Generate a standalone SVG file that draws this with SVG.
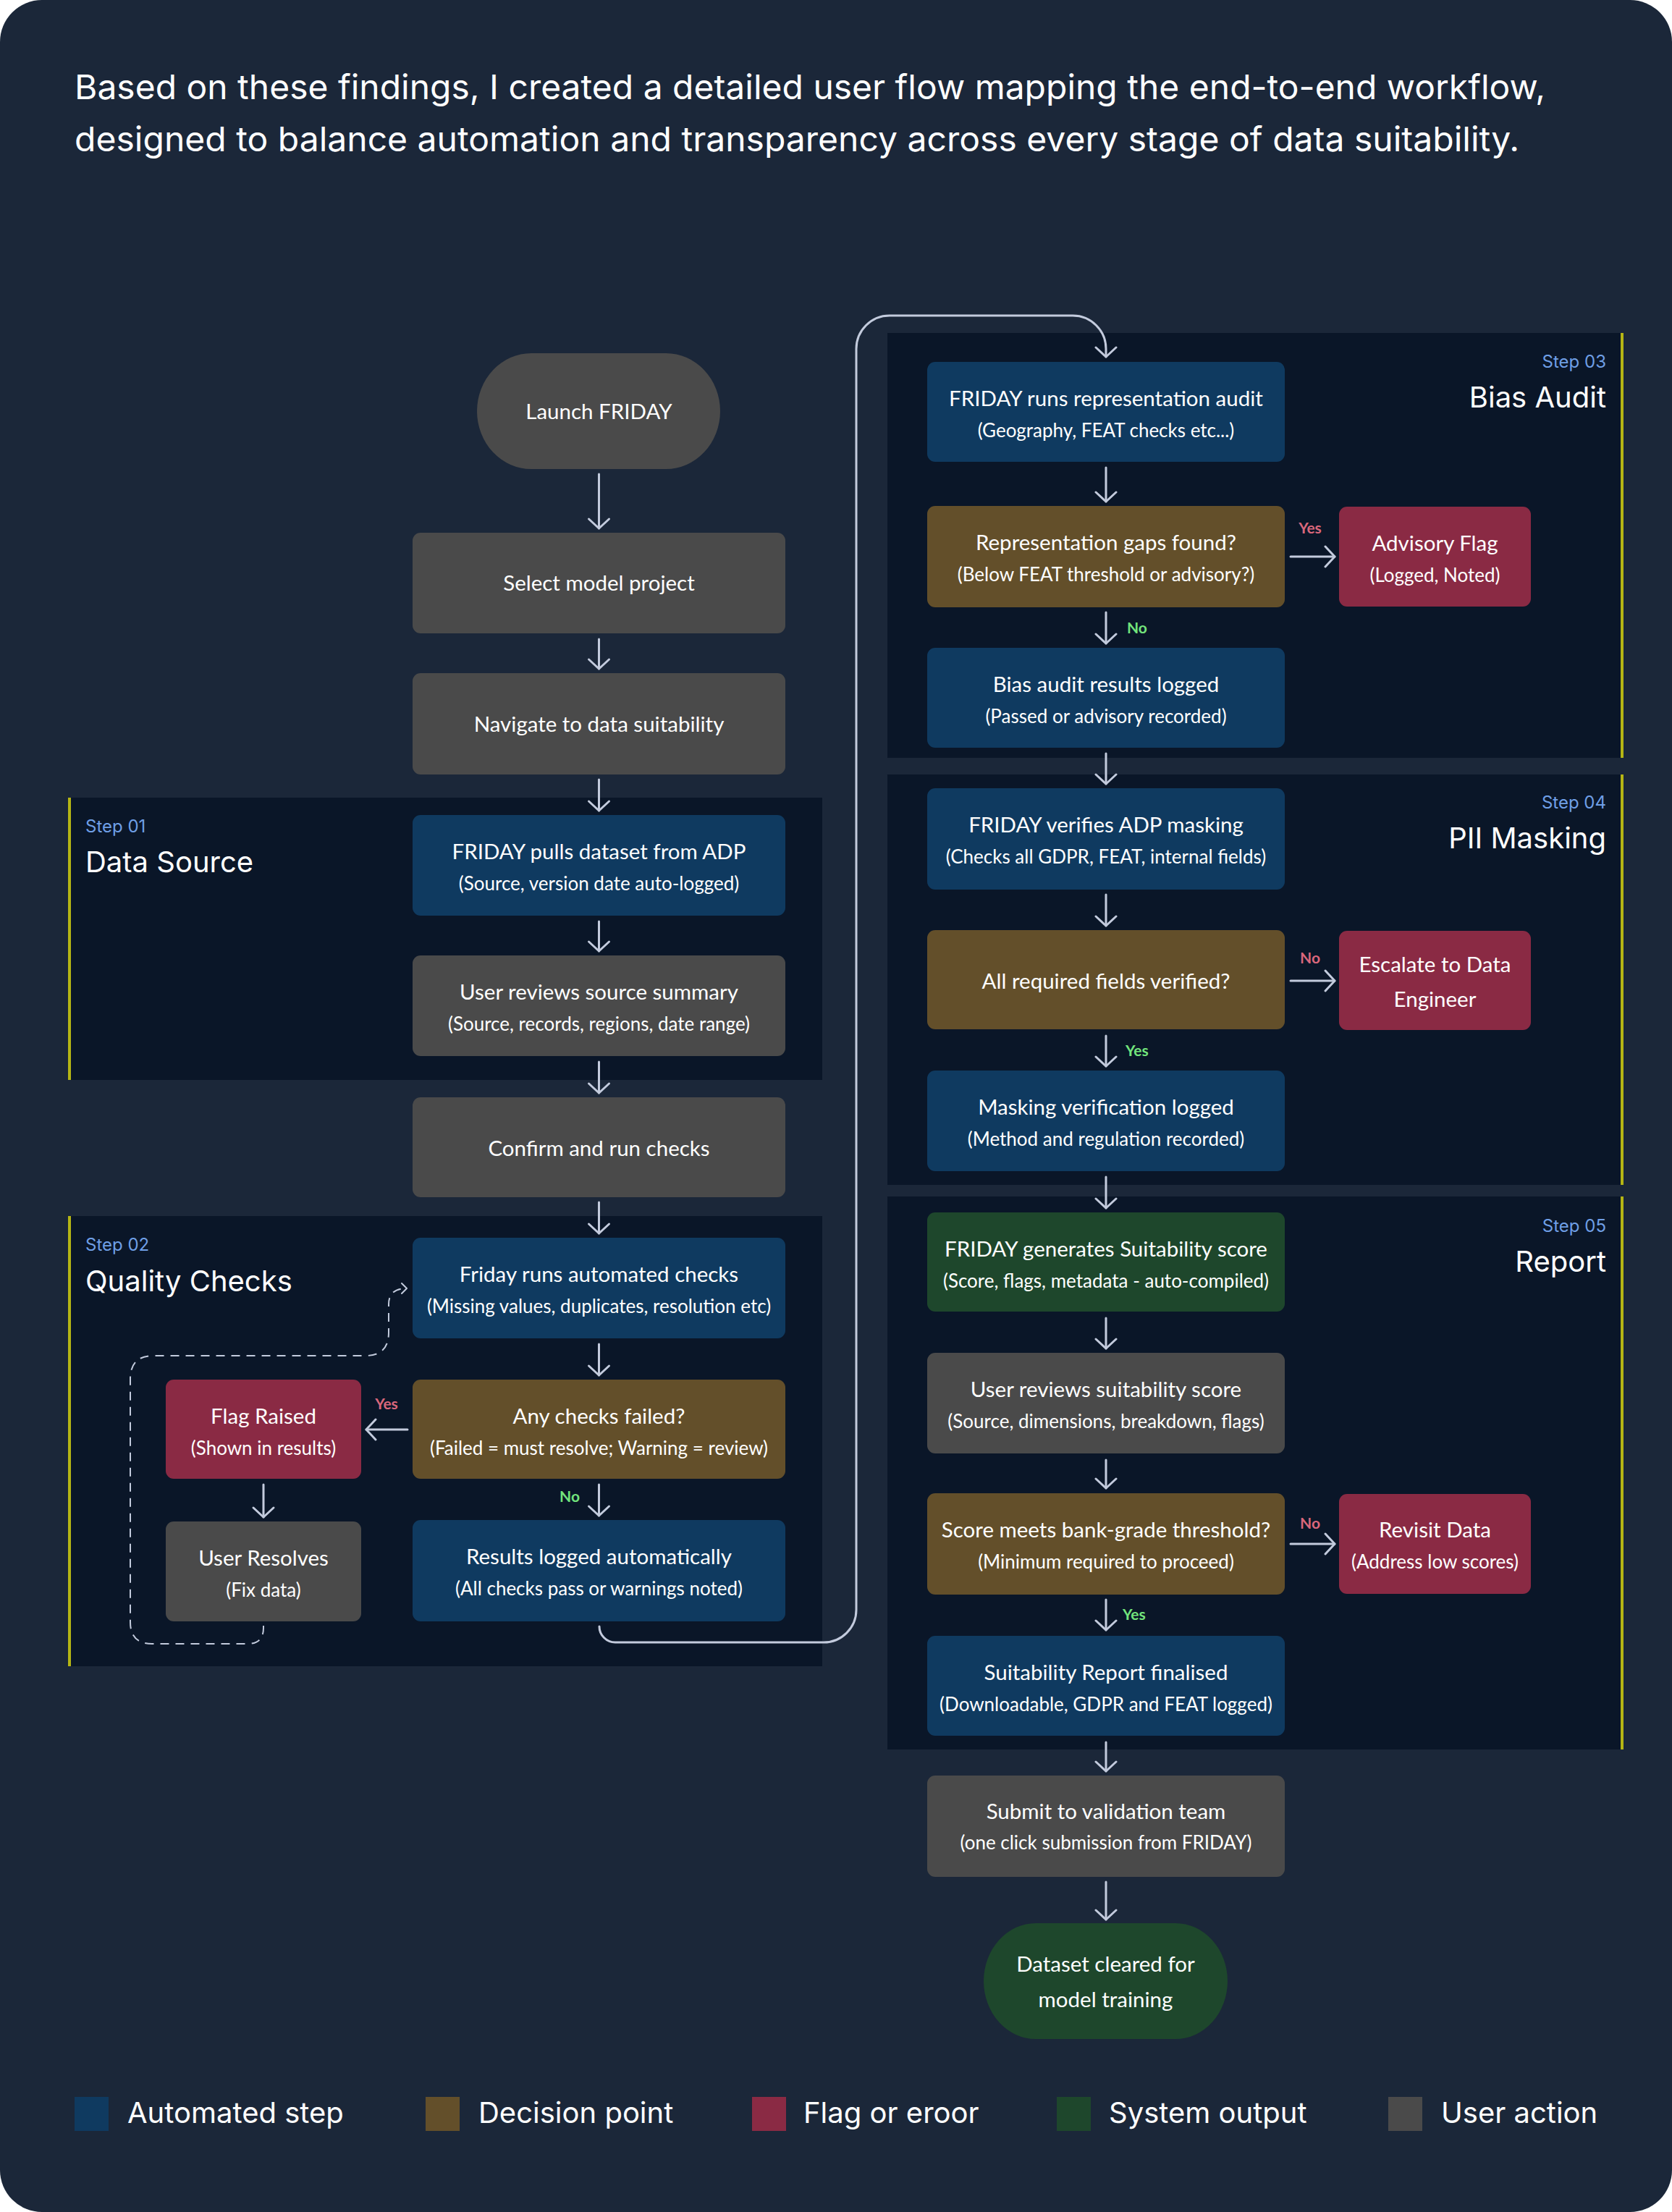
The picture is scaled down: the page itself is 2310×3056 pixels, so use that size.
<svg xmlns="http://www.w3.org/2000/svg" width="2310" height="3056" viewBox="0 0 2310 3056">
<defs>
<style>
.n{font-family:Lato,"Source Sans Pro","Noto Sans",sans-serif;fill:#ffffff;text-anchor:middle}
.m{font-size:29.5px}
.s{font-size:26px}
.h{font-family:Inter,"Noto Sans",sans-serif;fill:#ffffff}
.step{font-family:Inter,"Noto Sans",sans-serif;font-size:24px;fill:#6f9fe6}
.ttl{font-family:Inter,"Noto Sans",sans-serif;font-size:40px;fill:#ffffff}
.lab{font-family:Lato,"Noto Sans",sans-serif;font-size:21px;font-weight:700}
.red{fill:#d9677b}
.grn{fill:#72e47c}
.blue{fill:#0f3a60}
.dec{fill:#634f2a}
.flag{fill:#8a2a44}
.gray{fill:#4a4a4a}
.green{fill:#1e472c}
.panel{fill:#0a1628}
.bar{fill:#b5b514}
.ar{fill:none;stroke:#c3cbdd;stroke-width:3;stroke-linecap:round;marker-end:url(#ah)}
.dash{fill:none;stroke:#c3cbdd;stroke-width:2;stroke-dasharray:12 9;marker-end:url(#ahs)}
</style>
<marker id="ah" markerUnits="userSpaceOnUse" markerWidth="40" markerHeight="40" refX="0" refY="0" viewBox="-20 -20 40 40" orient="auto" overflow="visible">
<path d="M -13 -14 L 0 0 L -13 14" fill="none" stroke="#c3cbdd" stroke-width="3" stroke-linecap="round" stroke-linejoin="round"/>
</marker>
<marker id="ahs" markerUnits="userSpaceOnUse" markerWidth="20" markerHeight="20" refX="0" refY="0" viewBox="-10 -10 20 20" orient="auto" overflow="visible">
<path d="M -7 -7 L 0 0 L -7 7" fill="none" stroke="#c3cbdd" stroke-width="2" stroke-linecap="round" stroke-linejoin="round"/>
</marker>
</defs>
<rect x="0" y="0" width="2310" height="3056" fill="#ffffff"/>
<rect x="0" y="0" width="2310" height="3056" rx="58" ry="58" fill="#1b2739"/>

<g id="header">
<text class="h" x="103" y="137" font-size="47" textLength="2032" lengthAdjust="spacingAndGlyphs">Based on these findings, I created a detailed user flow mapping the end-to-end workflow,</text>
<text class="h" x="103" y="209" font-size="47" textLength="1996" lengthAdjust="spacingAndGlyphs">designed to balance automation and transparency across every stage of data suitability.</text>
</g>

<g id="panels">
<g id="step01">
<rect class="panel" x="94" y="1102" width="1042" height="390"/>
<rect class="bar" x="94" y="1102" width="4" height="390"/>
<text class="step" x="118" y="1150">Step 01</text>
<text class="ttl" x="118" y="1205">Data Source</text>
</g>
<g id="step02">
<rect class="panel" x="94" y="1680" width="1042" height="622"/>
<rect class="bar" x="94" y="1680" width="4" height="622"/>
<text class="step" x="118" y="1728">Step 02</text>
<text class="ttl" x="118" y="1784">Quality Checks</text>
</g>
<g id="step03">
<rect class="panel" x="1226" y="460" width="1017" height="587"/>
<rect class="bar" x="2239" y="460" width="4" height="587"/>
<text class="step" x="2219" y="508" text-anchor="end">Step 03</text>
<text class="ttl" x="2219" y="563" text-anchor="end">Bias Audit</text>
</g>
<g id="step04">
<rect class="panel" x="1226" y="1070" width="1017" height="567"/>
<rect class="bar" x="2239" y="1070" width="4" height="567"/>
<text class="step" x="2219" y="1117" text-anchor="end">Step 04</text>
<text class="ttl" x="2219" y="1172" text-anchor="end">PII Masking</text>
</g>
<g id="step05">
<rect class="panel" x="1226" y="1653" width="1017" height="764"/>
<rect class="bar" x="2239" y="1653" width="4" height="764"/>
<text class="step" x="2219" y="1702" text-anchor="end">Step 05</text>
<text class="ttl" x="2219" y="1757" text-anchor="end">Report</text>
</g>
</g>

<g id="connectors">
<line class="ar" x1="827.5" y1="655" x2="827.5" y2="730"/>
<line class="ar" x1="827.5" y1="883" x2="827.5" y2="924"/>
<line class="ar" x1="827.5" y1="1077" x2="827.5" y2="1120"/>
<line class="ar" x1="827.5" y1="1273" x2="827.5" y2="1314"/>
<line class="ar" x1="827.5" y1="1467" x2="827.5" y2="1510"/>
<line class="ar" x1="827.5" y1="1661" x2="827.5" y2="1704"/>
<line class="ar" x1="827.5" y1="1857" x2="827.5" y2="1900"/>
<line class="ar" x1="827.5" y1="2051" x2="827.5" y2="2094"/>
<line class="ar" x1="563" y1="1975" x2="506" y2="1975"/>
<line class="ar" x1="364" y1="2051" x2="364" y2="2096"/>
<path class="dash" d="M 364 2246 L 364 2249 Q 364 2271 342 2271 L 210 2271 Q 180 2271 180 2241 L 180 1905 Q 180 1873 212 1873 L 505 1873 Q 537 1873 537 1841 L 537 1802 Q 537 1780 562 1780"/>
<path class="ar" d="M 828 2247 A 22 22 0 0 0 850 2269 L 1138 2269 A 45 45 0 0 0 1183 2224 L 1183 482 A 46 46 0 0 1 1229 436 L 1482 436 A 46 46 0 0 1 1528 482 L 1528 493"/>
<line class="ar" x1="1528" y1="646" x2="1528" y2="693"/>
<line class="ar" x1="1528" y1="846" x2="1528" y2="889"/>
<line class="ar" x1="1528" y1="1041" x2="1528" y2="1083"/>
<line class="ar" x1="1528" y1="1236" x2="1528" y2="1279"/>
<line class="ar" x1="1528" y1="1431" x2="1528" y2="1473"/>
<line class="ar" x1="1528" y1="1626" x2="1528" y2="1669"/>
<line class="ar" x1="1528" y1="1821" x2="1528" y2="1863"/>
<line class="ar" x1="1528" y1="2017" x2="1528" y2="2056"/>
<line class="ar" x1="1528" y1="2210" x2="1528" y2="2252"/>
<line class="ar" x1="1528" y1="2407" x2="1528" y2="2447"/>
<line class="ar" x1="1528" y1="2600" x2="1528" y2="2652"/>
<line class="ar" x1="1783" y1="769" x2="1844" y2="769"/>
<line class="ar" x1="1783" y1="1355" x2="1844" y2="1355"/>
<line class="ar" x1="1783" y1="2133" x2="1844" y2="2133"/>
<text class="lab red" x="534" y="1947" text-anchor="middle">Yes</text>
<text class="lab grn" x="801" y="2075" text-anchor="end">No</text>
<text class="lab red" x="1810" y="737" text-anchor="middle">Yes</text>
<text class="lab grn" x="1557" y="875">No</text>
<text class="lab red" x="1810" y="1331" text-anchor="middle">No</text>
<text class="lab grn" x="1555" y="1459">Yes</text>
<text class="lab red" x="1810" y="2112" text-anchor="middle">No</text>
<text class="lab grn" x="1551" y="2238">Yes</text>
</g>

<g id="n-launch"><rect class="gray" x="659" y="488" width="336" height="160" rx="75" ry="80"/><text class="n m" x="827.5" y="579">Launch FRIDAY</text></g>
<g id="n-select"><rect class="gray" x="570" y="736" width="515" height="139" rx="11"/><text class="n m" x="827.5" y="816">Select model project</text></g>
<g id="n-navigate"><rect class="gray" x="570" y="930" width="515" height="140" rx="11"/><text class="n m" x="827.5" y="1011">Navigate to data suitability</text></g>
<g id="n-pull"><rect class="blue" x="570" y="1126" width="515" height="139" rx="11"/><text class="n m" x="827.5" y="1187">FRIDAY pulls dataset from ADP</text><text class="n s" x="827.5" y="1230">(Source, version date auto-logged)</text></g>
<g id="n-review-source"><rect class="gray" x="570" y="1320" width="515" height="139" rx="11"/><text class="n m" x="827.5" y="1381">User reviews source summary</text><text class="n s" x="827.5" y="1424">(Source, records, regions, date range)</text></g>
<g id="n-confirm"><rect class="gray" x="570" y="1516" width="515" height="138" rx="11"/><text class="n m" x="827.5" y="1597">Confirm and run checks</text></g>
<g id="n-auto-checks"><rect class="blue" x="570" y="1710" width="515" height="139" rx="11"/><text class="n m" x="827.5" y="1771">Friday runs automated checks</text><text class="n s" x="827.5" y="1814">(Missing values, duplicates, resolution etc)</text></g>
<g id="n-any-failed"><rect class="dec" x="570" y="1906" width="515" height="137" rx="11"/><text class="n m" x="827.5" y="1967">Any checks failed?</text><text class="n s" x="827.5" y="2010">(Failed = must resolve; Warning = review)</text></g>
<g id="n-flag-raised"><rect class="flag" x="229" y="1906" width="270" height="137" rx="11"/><text class="n m" x="364" y="1967">Flag Raised</text><text class="n s" x="364" y="2010">(Shown in results)</text></g>
<g id="n-user-resolves"><rect class="gray" x="229" y="2102" width="270" height="138" rx="11"/><text class="n m" x="364" y="2163">User Resolves</text><text class="n s" x="364" y="2206">(Fix data)</text></g>
<g id="n-results-logged"><rect class="blue" x="570" y="2100" width="515" height="140" rx="11"/><text class="n m" x="827.5" y="2161">Results logged automatically</text><text class="n s" x="827.5" y="2204">(All checks pass or warnings noted)</text></g>

<g id="n-rep-audit"><rect class="blue" x="1281" y="500" width="494" height="138" rx="11"/><text class="n m" x="1528" y="561">FRIDAY runs representation audit</text><text class="n s" x="1528" y="604">(Geography, FEAT checks etc...)</text></g>
<g id="n-rep-gaps"><rect class="dec" x="1281" y="699" width="494" height="140" rx="11"/><text class="n m" x="1528" y="760">Representation gaps found?</text><text class="n s" x="1528" y="803">(Below FEAT threshold or advisory?)</text></g>
<g id="n-advisory"><rect class="flag" x="1850" y="700" width="265" height="138" rx="11"/><text class="n m" x="1982.5" y="761">Advisory Flag</text><text class="n s" x="1982.5" y="804">(Logged, Noted)</text></g>
<g id="n-bias-logged"><rect class="blue" x="1281" y="895" width="494" height="138" rx="11"/><text class="n m" x="1528" y="956">Bias audit results logged</text><text class="n s" x="1528" y="999">(Passed or advisory recorded)</text></g>
<g id="n-verify-mask"><rect class="blue" x="1281" y="1089" width="494" height="140" rx="11"/><text class="n m" x="1528" y="1150">FRIDAY verifies ADP masking</text><text class="n s" x="1528" y="1193">(Checks all GDPR, FEAT, internal fields)</text></g>
<g id="n-fields-verified"><rect class="dec" x="1281" y="1285" width="494" height="137" rx="11"/><text class="n m" x="1528" y="1366">All required fields verified?</text></g>
<g id="n-escalate"><rect class="flag" x="1850" y="1286" width="265" height="137" rx="11"/><text class="n m" x="1982.5" y="1343">Escalate to Data</text><text class="n m" x="1982.5" y="1391">Engineer</text></g>
<g id="n-mask-logged"><rect class="blue" x="1281" y="1479" width="494" height="139" rx="11"/><text class="n m" x="1528" y="1540">Masking verification logged</text><text class="n s" x="1528" y="1583">(Method and regulation recorded)</text></g>
<g id="n-gen-score"><rect class="green" x="1281" y="1675" width="494" height="137" rx="11"/><text class="n m" x="1528" y="1736">FRIDAY generates Suitability score</text><text class="n s" x="1528" y="1779">(Score, flags, metadata - auto-compiled)</text></g>
<g id="n-review-score"><rect class="gray" x="1281" y="1869" width="494" height="139" rx="11"/><text class="n m" x="1528" y="1930">User reviews suitability score</text><text class="n s" x="1528" y="1973">(Source, dimensions, breakdown, flags)</text></g>
<g id="n-threshold"><rect class="dec" x="1281" y="2063" width="494" height="140" rx="11"/><text class="n m" x="1528" y="2124">Score meets bank-grade threshold?</text><text class="n s" x="1528" y="2167">(Minimum required to proceed)</text></g>
<g id="n-revisit"><rect class="flag" x="1850" y="2064" width="265" height="138" rx="11"/><text class="n m" x="1982.5" y="2124">Revisit Data</text><text class="n s" x="1982.5" y="2167">(Address low scores)</text></g>
<g id="n-report"><rect class="blue" x="1281" y="2260" width="494" height="138" rx="11"/><text class="n m" x="1528" y="2321">Suitability Report finalised</text><text class="n s" x="1528" y="2364">(Downloadable, GDPR and FEAT logged)</text></g>
<g id="n-submit"><rect class="gray" x="1281" y="2453" width="494" height="140" rx="11"/><text class="n m" x="1528" y="2513">Submit to validation team</text><text class="n s" x="1528" y="2555">(one click submission from FRIDAY)</text></g>
<g id="n-cleared"><rect class="green" x="1359" y="2657" width="337" height="160" rx="72" ry="80"/><text class="n m" x="1527.5" y="2724">Dataset cleared for</text><text class="n m" x="1527.5" y="2773">model training</text></g>

<g id="legend">
<rect class="blue" x="103" y="2897" width="47" height="47"/><text class="h" x="176" y="2933" font-size="40">Automated step</text>
<rect class="dec" x="588" y="2897" width="47" height="47"/><text class="h" x="661" y="2933" font-size="40">Decision point</text>
<rect class="flag" x="1039" y="2897" width="47" height="47"/><text class="h" x="1110" y="2933" font-size="40">Flag or eroor</text>
<rect class="green" x="1460" y="2897" width="47" height="47"/><text class="h" x="1532" y="2933" font-size="40">System output</text>
<rect class="gray" x="1918" y="2897" width="47" height="47"/><text class="h" x="1991" y="2933" font-size="40">User action</text>
</g>
</svg>
